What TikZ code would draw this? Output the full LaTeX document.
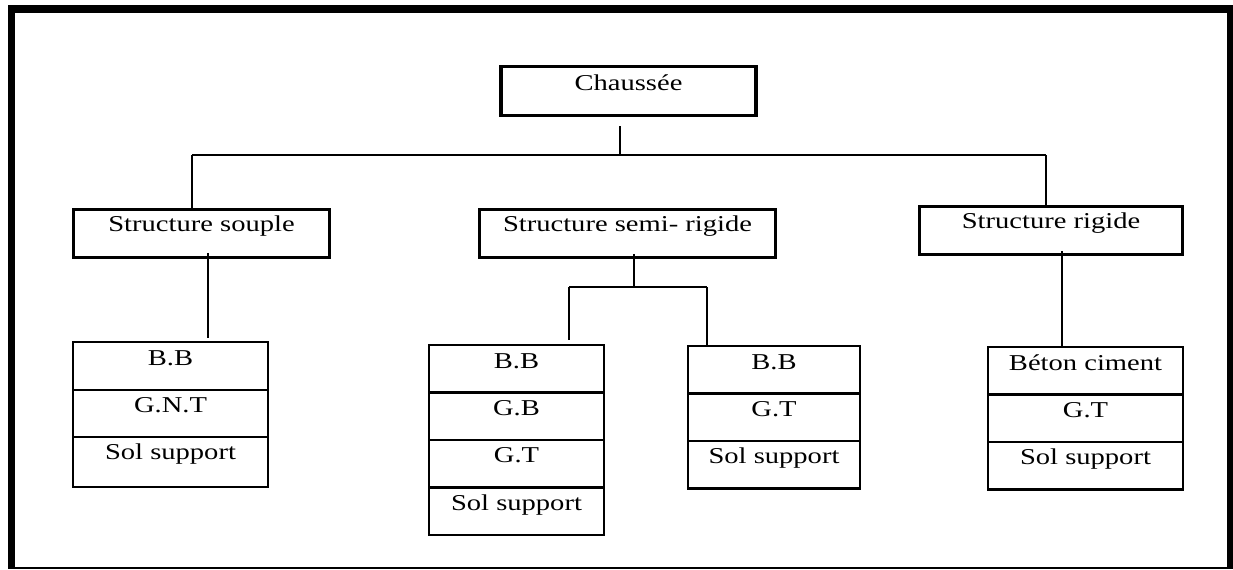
\documentclass[tikz,border=0pt]{standalone}
\usepackage{fontspec}
\setmainfont{Liberation Serif}[FakeStretch=1.26]
\usetikzlibrary{positioning}

\begin{document}
\begin{tikzpicture}[x=0.02cm,y=-0.02cm]
			\tikzstyle{every node} = [font=\fontsize{12.9}{15}\selectfont];
			\tikzstyle{boite} = [draw=black,line width=1.7pt,inner sep=0pt,text height=0.45cm,text depth=0.51cm];
			\tikzstyle{couche} = [draw=black,line width=1.4pt,inner sep=0pt,outer sep=0pt,text height=0.46cm,text depth=0.49cm];
			\tikzstyle{lien} = [line width=1.1pt];
			\tikzstyle{bus} = [line width=0.7pt];
			\useasboundingbox (0,0) rectangle (1233,569);
			% cadre
			\fill (8,5) rectangle (1233,13);
			\fill (8,5) rectangle (15,569);
			\fill (1227,5) rectangle (1233,569);
			\fill (8,567) rectangle (1233,569);
			% niveaux
			\node[boite,line width=1.9pt,minimum width=5.1cm,text height=0.48cm,text depth=0.5cm,anchor=north] (chaussee) at (628.5,65) {Chaussée};
			\node[boite,minimum width=5.14cm,anchor=north] (souple) at (201.5,208) {Structure souple};
			\node[boite,minimum width=5.94cm,anchor=north] (semi) at (627.5,208) {Structure semi- rigide};
			\node[boite,minimum width=5.28cm,anchor=north] (rigide) at (1051,205) {Structure rigide};
			% couches
			\node[couche,minimum width=3.9cm,text depth=0.5cm,anchor=north] (s1) at (170.5,342) {B.B};
			\node[couche,minimum width=3.9cm,text depth=0.48cm,below=0pt of s1] (s2) {G.N.T};
			\node[couche,minimum width=3.9cm,text depth=0.54cm,below=0pt of s2] (s3) {Sol support};
			\node[couche,minimum width=3.5cm,anchor=north] (m1) at (516.5,345) {B.B};
			\node[couche,minimum width=3.5cm,below=0pt of m1] (m2) {G.B};
			\node[couche,minimum width=3.5cm,below=0pt of m2] (m3) {G.T};
			\node[couche,minimum width=3.5cm,below=0pt of m3] (m4) {Sol support};
			\node[couche,minimum width=3.44cm,anchor=north] (n1) at (774,346) {B.B};
			\node[couche,minimum width=3.44cm,below=0pt of n1] (n2) {G.T};
			\node[couche,minimum width=3.44cm,below=0pt of n2] (n3) {Sol support};
			\node[couche,minimum width=3.9cm,anchor=north] (r1) at (1085.5,347) {Béton ciment};
			\node[couche,minimum width=3.9cm,below=0pt of r1] (r2) {G.T};
			\node[couche,minimum width=3.9cm,below=0pt of r2] (r3) {Sol support};
			% liaisons
			\coordinate (jc) at (620,155);
			\coordinate (jl) at (192,155);
			\coordinate (jr) at (1046,155);
			\coordinate (sp) at (208,300);
			\coordinate (sm) at (634,287);
			\coordinate (sl) at (569,287);
			\coordinate (sr) at (707,287);
			\coordinate (rg) at (1062,300);
			\draw[lien] ([yshift=-0.18cm]chaussee.south -| jc) -- (jc);
			\draw[bus] (jl) -- (jr);
			\draw[bus] (jl) -- (souple.north -| jl);
			\draw[bus] (jr) -- (rigide.north -| jr);
			\draw[lien] ([yshift=0.12cm]souple.south -| sp) -- ([yshift=0.08cm]s1.north -| sp);
			\draw[lien] ([yshift=0.1cm]semi.south -| sm) -- (sm);
			\draw[lien] (sl) -- (sr);
			\draw[lien] (sl) -- ([yshift=0.1cm]m1.north -| sl);
			\draw[lien] (sr) -- (n1.north -| sr);
			\draw[lien] ([yshift=0.1cm]rigide.south -| rg) -- (r1.north -| rg);
		\end{tikzpicture}
\end{document}
